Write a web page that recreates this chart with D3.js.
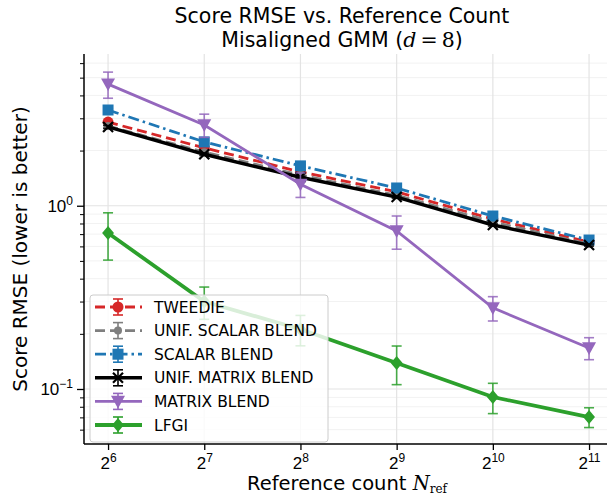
<!DOCTYPE html>
<html>
<head>
<meta charset="utf-8">
<script src="https://cdn.jsdelivr.net/npm/d3@7"></script>
<style>
body { margin: 0; background: #fff; }
svg { font-family: "DejaVu Sans", sans-serif; }
</style>
</head>
<body>
<svg id="chart"></svg>
<script>
// reference counts (x) as powers of two
var exponents = [6, 7, 8, 9, 10, 11]
var counts = exponents.map(function(e){ return Math.pow(2, e) })

var seriesNames = ["TWEEDIE", "UNIF. SCALAR BLEND", "SCALAR BLEND", "UNIF. MATRIX BLEND", "MATRIX BLEND", "LFGI"]

var tweedie      = [2.86, 2.07, 1.53, 1.19, 0.846, 0.634]
var tweedieErr   = [0.05, 0.03, 0.02, 0.015, 0.01, 0.008]
var unifScalar    = [2.72, 1.96, 1.47, 1.14, 0.815, 0.618]
var unifScalarErr = [0.05, 0.03, 0.02, 0.015, 0.01, 0.008]
var scalarBlend    = [3.33, 2.23, 1.65, 1.25, 0.879, 0.650]
var scalarBlendErr = [0.06, 0.04, 0.03, 0.02, 0.012, 0.008]
var unifMatrix    = [2.69, 1.91, 1.43, 1.115, 0.785, 0.610]
var unifMatrixErr = [0.05, 0.03, 0.02, 0.015, 0.01, 0.008]
var matrixBlend    = [4.61, 2.76, 1.31, 0.729, 0.277, 0.1675]
var matrixBlendErr = [0.75, 0.40, 0.20, 0.150, 0.042, 0.023]
var lfgi    = [0.710, 0.300, 0.212, 0.1386, 0.0904, 0.0703]
var lfgiErr = [0.205, 0.060, 0.040, 0.033, 0.0170, 0.0087]

var yMajor = [0.1, 1]
var yMinor = [0.06, 0.07, 0.08, 0.09, 0.2, 0.3, 0.4, 0.5, 0.6, 0.7, 0.8, 0.9, 2, 3, 4, 5, 6]

var width = 607, height = 497
var margins = {top: 54, left: 84, bottom: 53}

var styles = [
  {color: "#d62728", dash: "10,5", width: 2.8, marker: "circle", size: 5.5},
  {color: "#7f7f7f", dash: "10,5", width: 2.8, marker: "circle", size: 4},
  {color: "#1f77b4", dash: "11,4,2.5,4", width: 2.8, marker: "square", size: 11},
  {color: "#000000", dash: null, width: 3.4, marker: "x", size: 5},
  {color: "#9467bd", dash: null, width: 2.8, marker: "tri", size: 7},
  {color: "#2ca02c", dash: null, width: 3.8, marker: "diamond", size: 7}
]

var data = [
  {vals: tweedie, err: tweedieErr},
  {vals: unifScalar, err: unifScalarErr},
  {vals: scalarBlend, err: scalarBlendErr},
  {vals: unifMatrix, err: unifMatrixErr},
  {vals: matrixBlend, err: matrixBlendErr},
  {vals: lfgi, err: lfgiErr}
].map(function(d, i){
  d.name = seriesNames[i]
  d.style = styles[i]
  return d
})

var svg = d3.select("#chart").attr("width", width).attr("height", height)

var xScale = d3.scaleLog().base(2)
  .domain([Math.pow(2, 5.75), Math.pow(2, 11.25)])
  .range([margins.left, margins.left + 5.5 * 96.2])
var yScale = d3.scaleLog()
  .domain([0.0501, 6.73])
  .range([height - margins.bottom, margins.top])

var plotRight = width
var plotBottom = height - margins.bottom

// grid
var grid = svg.append("g")
grid.selectAll(".minor").data(yMinor).enter().append("line")
  .attr("x1", margins.left).attr("x2", plotRight)
  .attr("y1", function(d){ return yScale(d) }).attr("y2", function(d){ return yScale(d) })
  .attr("stroke", "#f2f2f2").attr("stroke-width", 1)
grid.selectAll(".majory").data(yMajor).enter().append("line")
  .attr("x1", margins.left).attr("x2", plotRight)
  .attr("y1", function(d){ return yScale(d) }).attr("y2", function(d){ return yScale(d) })
  .attr("stroke", "#e3e3e3").attr("stroke-width", 1.2)
grid.selectAll(".majorx").data(counts).enter().append("line")
  .attr("y1", margins.top).attr("y2", plotBottom)
  .attr("x1", function(d){ return xScale(d) }).attr("x2", function(d){ return xScale(d) })
  .attr("stroke", "#e3e3e3").attr("stroke-width", 1.2)

// axes
var xAxis = d3.axisBottom(xScale).tickValues(counts).tickSize(6).tickFormat("")
var xg = svg.append("g").attr("transform", "translate(0," + plotBottom + ")").call(xAxis)
xg.select(".domain").attr("stroke-width", 1.5).attr("d", "M" + margins.left + ",0H" + plotRight)
xg.selectAll(".tick line").attr("stroke-width", 1.3)
xg.selectAll(".tick").append("text")
  .attr("y", 25).attr("fill", "#000").attr("text-anchor", "middle")
  .style("font-size", "17px")
  .each(function(d, i){
    var t = d3.select(this)
    t.append("tspan").text("2")
    t.append("tspan").attr("dy", -7).style("font-size", "12px").text(exponents[i])
  })

var yAxis = d3.axisLeft(yScale).tickValues(yMajor).tickSize(7).tickFormat("")
var yg = svg.append("g").attr("transform", "translate(" + margins.left + ",0)").call(yAxis)
yg.select(".domain").attr("stroke-width", 1.5).attr("d", "M0," + margins.top + "V" + plotBottom)
yg.selectAll(".tick line").attr("stroke-width", 1.3)
yg.selectAll(".tick").append("text")
  .attr("x", -11).attr("y", 6).attr("fill", "#000").attr("text-anchor", "end")
  .style("font-size", "17px")
  .each(function(d){
    var t = d3.select(this)
    t.append("tspan").text("10")
    t.append("tspan").attr("dy", -7).style("font-size", "12px").text(d === 1 ? "0" : "\u22121")
  })
var yMinorAxis = d3.axisLeft(yScale).tickValues(yMinor).tickSize(4).tickFormat("")
var ym = svg.append("g").attr("transform", "translate(" + margins.left + ",0)").call(yMinorAxis)
ym.select(".domain").remove()
ym.selectAll(".tick line").attr("stroke-width", 1)

// series
var lineGen = d3.line()
  .x(function(d, i){ return xScale(counts[i]) })
  .y(function(d){ return yScale(d) })

function drawMarker(g, st, cx, cy) {
  if (st.marker == "circle") {
    g.append("circle").attr("cx", cx).attr("cy", cy).attr("r", st.size).attr("fill", st.color)
  } else if (st.marker == "square") {
    g.append("rect").attr("x", cx - st.size/2).attr("y", cy - st.size/2)
      .attr("width", st.size).attr("height", st.size).attr("fill", st.color)
  } else if (st.marker == "x") {
    var s = st.size
    g.append("path").attr("d", "M" + (cx-s) + "," + (cy-s) + "L" + (cx+s) + "," + (cy+s) + "M" + (cx-s) + "," + (cy+s) + "L" + (cx+s) + "," + (cy-s))
      .attr("stroke", st.color).attr("stroke-width", 2.2)
  } else if (st.marker == "tri") {
    var s = st.size
    g.append("path").attr("d", "M" + (cx-s) + "," + (cy-s*0.8) + "L" + (cx+s) + "," + (cy-s*0.8) + "L" + cx + "," + (cy+s) + "Z")
      .attr("fill", st.color)
  } else if (st.marker == "diamond") {
    var s = st.size
    g.append("path").attr("d", "M" + cx + "," + (cy-s) + "L" + (cx+s*0.85) + "," + cy + "L" + cx + "," + (cy+s) + "L" + (cx-s*0.85) + "," + cy + "Z")
      .attr("fill", st.color)
  }
}

data.forEach(function(series){
  var st = series.style
  var g = svg.append("g")
  // error bars
  series.vals.forEach(function(v, i){
    var x = xScale(counts[i])
    var y1 = yScale(v + series.err[i]), y2 = yScale(Math.max(v - series.err[i], 0.001))
    g.append("line").attr("x1", x).attr("x2", x).attr("y1", y1).attr("y2", y2)
      .attr("stroke", st.color).attr("stroke-width", 1.6).attr("opacity", 0.85)
    g.append("line").attr("x1", x - 5).attr("x2", x + 5).attr("y1", y1).attr("y2", y1)
      .attr("stroke", st.color).attr("stroke-width", 1.6).attr("opacity", 0.85)
    g.append("line").attr("x1", x - 5).attr("x2", x + 5).attr("y1", y2).attr("y2", y2)
      .attr("stroke", st.color).attr("stroke-width", 1.6).attr("opacity", 0.85)
  })
  g.append("path").datum(series.vals)
    .attr("d", lineGen)
    .attr("fill", "none")
    .attr("stroke", st.color)
    .attr("stroke-width", st.width)
    .attr("stroke-dasharray", st.dash)
  series.vals.forEach(function(v, i){
    drawMarker(g, st, xScale(counts[i]), yScale(v))
  })
})

// legend
var legend = svg.append("g").attr("transform", "translate(90,295)")
legend.append("rect").attr("width", 238).attr("height", 147).attr("rx", 3)
  .attr("fill", "#fff").attr("fill-opacity", 0.82)
  .attr("stroke", "#cccccc").attr("stroke-width", 1)
data.forEach(function(series, i){
  var st = series.style
  var y = 12 + i * 23.6
  var row = legend.append("g")
  row.append("line").attr("x1", 5).attr("x2", 52).attr("y1", y).attr("y2", y)
    .attr("stroke", st.color).attr("stroke-width", st.width).attr("stroke-dasharray", st.dash)
  row.append("line").attr("x1", 28).attr("x2", 28).attr("y1", y - 8).attr("y2", y + 8)
    .attr("stroke", st.color).attr("stroke-width", 1.6)
  row.append("line").attr("x1", 23).attr("x2", 33).attr("y1", y - 8).attr("y2", y - 8)
    .attr("stroke", st.color).attr("stroke-width", 1.6)
  row.append("line").attr("x1", 23).attr("x2", 33).attr("y1", y + 8).attr("y2", y + 8)
    .attr("stroke", st.color).attr("stroke-width", 1.6)
  drawMarker(row, st, 28, y)
  row.append("text").attr("x", 64).attr("y", y + 5.5)
    .style("font-size", "15.5px").attr("fill", "#000").text(series.name)
})

// titles
var cx = (margins.left + 600) / 2
svg.append("text").attr("x", cx).attr("y", 23).attr("text-anchor", "middle")
  .style("font-size", "20.5px").text("Score RMSE vs. Reference Count")
var t2 = svg.append("text").attr("x", cx).attr("y", 47).attr("text-anchor", "middle")
  .style("font-size", "20.5px")
t2.append("tspan").text("Misaligned GMM (")
t2.append("tspan").style("font-family", "'DejaVu Serif', serif").style("font-style", "italic").text("d")
t2.append("tspan").style("font-family", "'DejaVu Serif', serif").text("\u2009=\u20098")
t2.append("tspan").text(")")

var xl = svg.append("text").attr("x", cx + 5).attr("y", 490).attr("text-anchor", "middle")
  .style("font-size", "19.5px")
xl.append("tspan").text("Reference count ")
xl.append("tspan").style("font-family", "'DejaVu Serif', serif").style("font-style", "italic").text("N")
xl.append("tspan").attr("dy", 3).style("font-family", "'DejaVu Serif', serif").style("font-size", "12px").text("ref")

svg.append("text").attr("transform", "translate(27," + ((margins.top + plotBottom) / 2) + ") rotate(-90)")
  .attr("text-anchor", "middle").style("font-size", "20px")
  .text("Score RMSE (lower is better)")
</script>
</body>
</html>
